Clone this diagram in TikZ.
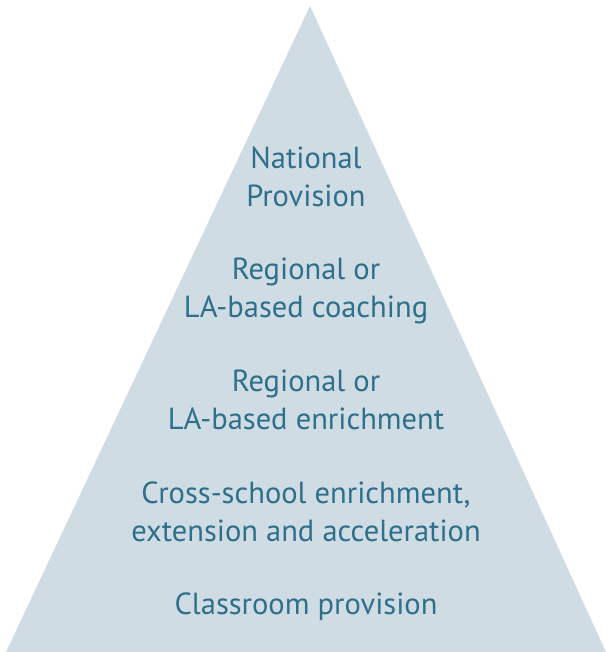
\documentclass[tikz,border=0pt]{standalone}
\usepackage{fontspec}
\setmainfont{PT Sans}
\definecolor{pyrfill}{HTML}{D0DCE3}
\definecolor{pyrtext}{HTML}{2E6F8B}
\begin{document}
\begin{tikzpicture}[x=1pt,y=-1pt,
    tier/.style={text=pyrtext,align=center,inner sep=0pt,
      font=\fontsize{30.5}{37.5}\selectfont}]
  \useasboundingbox (0,0) rectangle (606,652);
  \fill [pyrfill] (310,6) -- (606,652) -- (6,652) -- cycle;
  \node [tier] (national) at (306,177) {National\\Provision};
  \node [tier] (coaching) at (306,291) {Regional or\\LA-based coaching};
  \node [tier] (enrich) at (306,400) {Regional or\\LA-based enrichment};
  \node [tier] (cross) at (306,512) {Cross-school enrichment,\\extension and acceleration};
  \node [tier] (classroom) at (306,607) {Classroom provision};
\end{tikzpicture}
\end{document}
